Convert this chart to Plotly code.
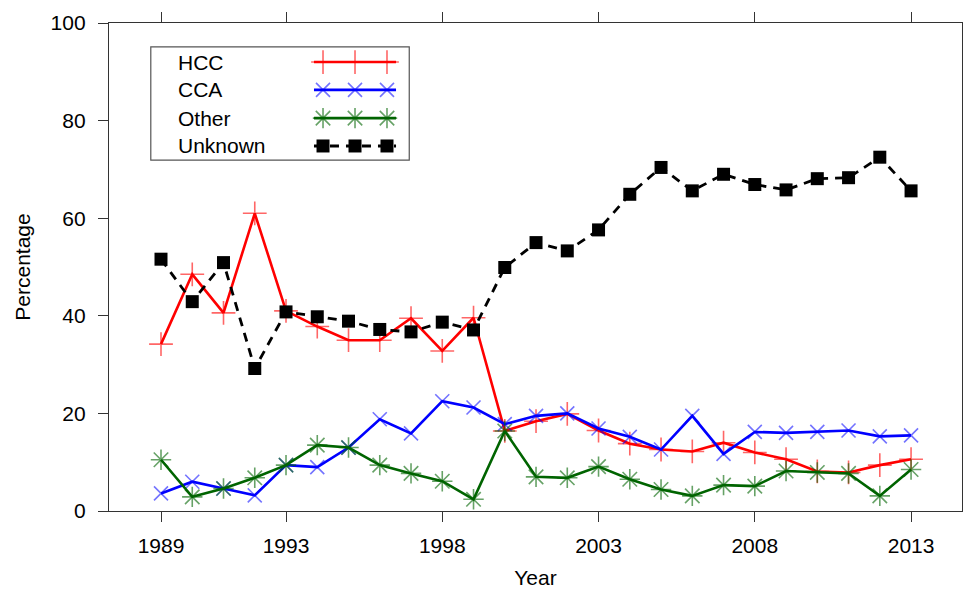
import plotly.graph_objects as go

# ---- data -------------------------------------------------------------
years = list(range(1989, 2014))

hcc = [34.2, 48.5, 40.6, 61.0, 41.0, 37.8, 35.0, 35.0, 39.5, 32.8,
       39.6, 16.4, 18.4, 19.9, 16.5, 13.8, 12.6, 12.2, 14.0, 12.0,
       10.6, 8.1, 7.9, 9.4, 10.6]

cca = [3.6, 6.0, 4.6, 3.2, 9.4, 9.0, 13.0, 18.8, 15.9, 22.5,
       21.2, 17.8, 19.5, 20.0, 16.9, 15.2, 12.6, 19.5, 11.7, 16.2,
       16.0, 16.2, 16.5, 15.3, 15.5]

other = [10.5, 2.9, 4.6, 6.8, 9.4, 13.5, 13.0, 9.4, 7.7, 6.1,
         2.4, 16.4, 7.0, 6.8, 9.1, 6.5, 4.4, 3.1, 5.3, 5.1,
         8.2, 7.9, 7.7, 3.1, 8.5]

unknown = [51.6, 42.9, 50.9, 29.2, 40.8, 39.8, 38.9, 37.2, 36.7, 38.7,
           37.1, 49.9, 55.0, 53.3, 57.6, 64.9, 70.4, 65.6, 69.0, 66.9,
           65.8, 68.1, 68.3, 72.5, 65.6]

tick_years = [1989, 1993, 1998, 2003, 2008, 2013]
y_ticks = [0, 20, 40, 60, 80, 100]

series_names = ["HCC", "CCA", "Other", "Unknown"]

# ---- styling ----------------------------------------------------------
FONT = "Liberation Sans, Arial, Helvetica, sans-serif"
FSIZE = 21
styles = {
    "HCC": dict(line=dict(color="#ff0000", width=2.6),
                marker=dict(symbol="cross-thin-open", size=17,
                            color="rgba(255,0,0,0.6)",
                            line=dict(width=1.6))),
    "CCA": dict(line=dict(color="#0000ff", width=2.6),
                marker=dict(symbol="x-thin-open", size=14,
                            color="rgba(0,0,255,0.55)",
                            line=dict(width=1.6))),
    "Other": dict(line=dict(color="#006400", width=2.6),
                  marker=dict(symbol="asterisk-open", size=17,
                              color="rgba(0,100,0,0.6)",
                              line=dict(width=1.6))),
    "Unknown": dict(line=dict(color="#000000", width=2.8, dash="9px,7px"),
                    marker=dict(symbol="square", size=13, color="#000000",
                                line=dict(width=0))),
}

values = {"HCC": hcc, "CCA": cca, "Other": other, "Unknown": unknown}

fig = go.Figure()

for name in series_names:
    st = styles[name]
    fig.add_trace(go.Scatter(
        x=years, y=values[name], name=name, mode="lines+markers",
        line=st["line"], marker=st["marker"], showlegend=False,
        cliponaxis=False,
    ))

# ---- hand-drawn legend (label on the left, sample on the right) ------
L_LEFT, L_RIGHT, L_BOTTOM, L_TOP = 0.049, 0.352, 0.719, 0.951
row_y = [0.920, 0.863, 0.805, 0.748]
sample_line_x = [0.2403, 0.3365]
sample_mark_x = [0.2509, 0.2884, 0.3259]
label_x = 0.0785

fig.add_shape(type="rect", xref="paper", yref="paper",
              x0=L_LEFT, x1=L_RIGHT, y0=L_BOTTOM, y1=L_TOP,
              line=dict(color="#555555", width=1.2), fillcolor="white",
              layer="below")

for name, ry in zip(series_names, row_y):
    st = styles[name]
    fig.add_trace(go.Scatter(
        x=sample_line_x, y=[ry, ry], mode="lines", line=st["line"],
        xaxis="x2", yaxis="y2", showlegend=False, hoverinfo="skip"))
    fig.add_trace(go.Scatter(
        x=sample_mark_x, y=[ry] * 3, mode="markers", marker=st["marker"],
        xaxis="x2", yaxis="y2", showlegend=False, hoverinfo="skip"))
    fig.add_annotation(x=label_x, y=ry, xref="paper", yref="paper",
                       text=name, showarrow=False, xanchor="left",
                       yanchor="middle",
                       font=dict(family=FONT, size=FSIZE, color="black"))

axis_common = dict(
    showline=True, linecolor="#333333", linewidth=1.3, mirror="allticks",
    ticks="outside", ticklen=10, tickwidth=1.3, tickcolor="#333333",
    showgrid=False, zeroline=False, automargin=False,
    tickfont=dict(family=FONT, size=FSIZE, color="black"),
)

fig.update_layout(
    width=963, height=589,
    margin=dict(l=109, r=1, t=23, b=78, autoexpand=False),
    paper_bgcolor="white", plot_bgcolor="white",
    font=dict(family=FONT, size=FSIZE, color="black"),
    xaxis=dict(range=[1987.336, 2014.63], tickvals=tick_years,
               ticktext=[str(t) for t in tick_years],
               title=dict(text="Year", standoff=14,
                          font=dict(family=FONT, size=FSIZE, color="black")),
               ticklabelstandoff=6, **axis_common),
    yaxis=dict(range=[0, 100], tickvals=y_ticks,
               title=dict(text="Percentage", standoff=14,
                          font=dict(family=FONT, size=FSIZE, color="black")),
               ticklabelstandoff=8, **axis_common),
    xaxis2=dict(range=[0, 1], overlaying="x", visible=False,
                fixedrange=True),
    yaxis2=dict(range=[0, 1], overlaying="y", visible=False,
                fixedrange=True, anchor="x2"),
    showlegend=False,
)

fig.write_html("out.html")
